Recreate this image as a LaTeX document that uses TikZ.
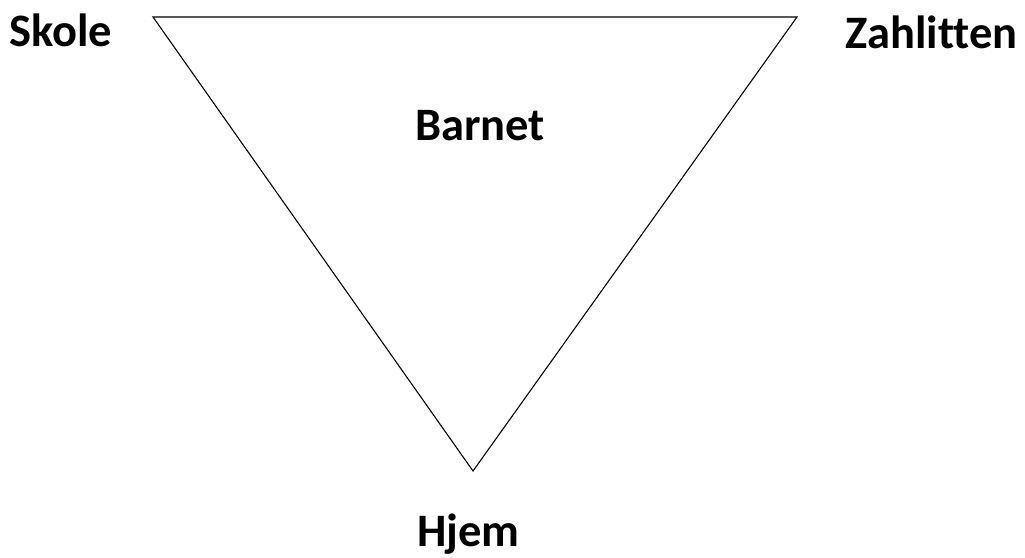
\documentclass[tikz,border=0pt]{standalone}
\usepackage{fontspec}
\setmainfont{Carlito}[Ligatures=NoCommon]
\begin{document}
\begin{tikzpicture}[x=1pt,y=-1pt,
  lbl/.style={font=\fontsize{46.5}{55}\selectfont\bfseries, inner sep=0pt, anchor=base west},
  edge/.style={draw=black, line width=1.1pt, line join=miter}]
\useasboundingbox (0,0) rectangle (1025,557);
\coordinate (tl) at (153,17);
\coordinate (tr) at (797,17);
\coordinate (bt) at (473,471);
\draw[edge] (tl) -- (tr) -- (bt) -- cycle;
\node[lbl] (skole) at (9,46) {Skole};
\node[lbl] (zah) at (845,48) {Zahlitten};
\node[lbl] (barnet) at (415,140) {Barnet};
\node[lbl] (hjem) at (417,546) {Hjem};
\end{tikzpicture}
\end{document}
